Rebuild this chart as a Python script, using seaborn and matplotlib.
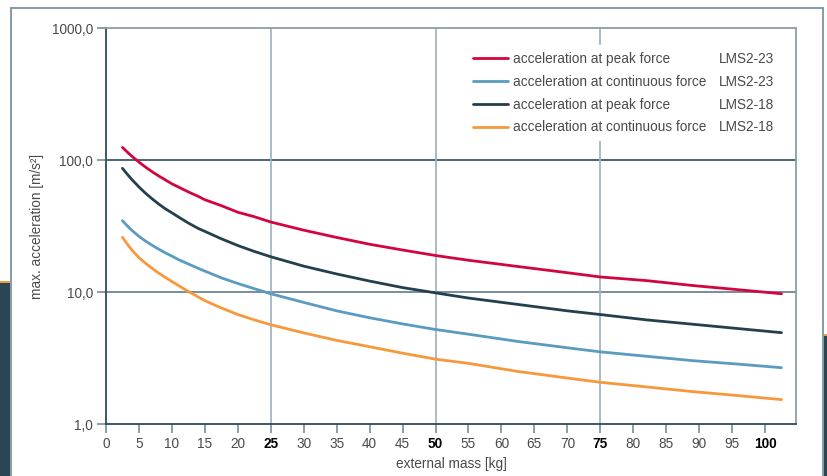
"""
Aceleración máxima frente a masa externa (LMS2-23 / LMS2-18)
Eje Y logarítmico, curvas leídas de la hoja de datos.
"""

import matplotlib
matplotlib.use("Agg")

import pandas as pd
import matplotlib.pyplot as plt
import seaborn as sns
from matplotlib.patches import Rectangle
from matplotlib.lines import Line2D
from matplotlib.ticker import FixedLocator, NullLocator


# DATOS
masa = [2.5, 3, 3.5, 4, 5, 6, 7, 8, 9, 10, 11, 12.5, 14, 15, 17.5, 20, 22.5, 25,
        30, 35, 40, 45, 50, 55, 62.5, 70, 75, 82, 89, 96, 102.5]

pico_23 = [124.5, 117.8, 111.6, 106, 96.4, 88.3, 81.5, 75.7, 70.7, 66, 62.4, 57.3, 53, 50, 45.1, 40.2, 37.2, 33.9,
           29.4, 25.9, 23.0, 20.8, 18.9, 17.4, 15.6, 14.0, 13.0, 12.2, 11.2, 10.4, 9.7]
cont_23 = [34.7, 32.6, 30.7, 29.1, 26.4, 24.3, 22.6, 21.1, 19.8, 18.7, 17.6, 16.3, 15.1, 14.4, 12.8, 11.6, 10.6, 9.7,
           8.34, 7.2, 6.38, 5.73, 5.2, 4.79, 4.22, 3.78, 3.52, 3.26, 3.02, 2.84, 2.67]
pico_18 = [86.5, 80.5, 75.2, 70.5, 62.5, 56, 50.8, 46.4, 42.7, 39.8, 37.0, 33.3, 30.3, 28.8, 25.3, 22.5, 20.3, 18.5,
           15.7, 13.7, 12.1, 10.8, 9.85, 9.0, 8.05, 7.2, 6.75, 6.15, 5.7, 5.28, 4.92]
cont_18 = [26.0, 23.9, 22.1, 20.6, 18.2, 16.5, 15.1, 13.9, 12.9, 12.0, 11.2, 10.1, 9.16, 8.6, 7.57, 6.75, 6.15, 5.65,
           4.9, 4.3, 3.85, 3.44, 3.1, 2.88, 2.5, 2.23, 2.07, 1.91, 1.76, 1.64, 1.53]

etiquetas = [
    "acceleration at peak force",
    "acceleration at continuous force",
    "acceleration at peak force",
    "acceleration at continuous force",
]
modelos = ["LMS2-23", "LMS2-23", "LMS2-18", "LMS2-18"]
colores = ["#d2063f", "#5a9bc0", "#243f4d", "#f6993c"]

x_ticks = list(range(0, 101, 5))
x_negrita = [25, 50, 75, 100]
y_ticks = [1, 10, 100, 1000]
y_etiquetas = ["1,0", "10,0", "100,0", "1000,0"]


# TABLA LARGA PARA SEABORN
series = [pico_23, cont_23, pico_18, cont_18]
filas = []
for i, valores in enumerate(series):
    for m, a in zip(masa, valores):
        filas.append({"masa": m, "aceleracion": a, "serie": i})
df = pd.DataFrame(filas)


# ESTILO
sns.set_style("white")
plt.rcParams["font.family"] = ["Liberation Sans", "DejaVu Sans"]

W, H = 827, 476
fig = plt.figure(figsize=(W / 100, H / 100), dpi=100)
ax = fig.add_axes([106 / W, 1 - 424 / H, 690 / W, 396 / H])

# marco y bloques de fondo (recorte del folleto)
marco = "#7d94a3"
fig.add_artist(Line2D([10.5 / W, 10.5 / W], [0, 1 - 7.5 / H], color=marco, lw=1.3))
fig.add_artist(Line2D([10.5 / W, 822.5 / W], [1 - 7.5 / H, 1 - 7.5 / H], color=marco, lw=1.3))
fig.add_artist(Line2D([822.5 / W, 822.5 / W], [0, 1 - 7.5 / H], color=marco, lw=1.3))
fig.add_artist(Rectangle((0, 0), 10 / W, (H - 283) / H, transform=fig.transFigure,
                         facecolor="#2a4655", edgecolor="none"))
fig.add_artist(Rectangle((0, (H - 283) / H), 10 / W, 2 / H, transform=fig.transFigure,
                         facecolor="#f29a3e", edgecolor="none"))
fig.add_artist(Rectangle((824 / W, 0), 3 / W, (H - 336) / H, transform=fig.transFigure,
                         facecolor="#2a4655", edgecolor="none"))
fig.add_artist(Rectangle((824 / W, (H - 336) / H), 3 / W, 2 / H, transform=fig.transFigure,
                         facecolor="#f29a3e", edgecolor="none"))

# CURVAS
sns.lineplot(
    data=df,
    x="masa",
    y="aceleracion",
    hue="serie",
    palette=dict(enumerate(colores)),
    linewidth=2.0,
    legend=False,
    ax=ax,
    zorder=3,
)

ax.set_yscale("log")
ax.set_xlim(0, 104.7)
ax.set_ylim(1, 1000)

# rejilla
for v in [10, 100]:
    ax.axhline(v, color="#2e4b5a" if v == 100 else "#62798a", lw=1.2, zorder=1)
for v in [25, 50, 75]:
    ax.axvline(v, color="#9bb0bd", lw=1.2, zorder=1)

# ejes
for lado in ["left", "bottom"]:
    ax.spines[lado].set_color("#2e4b5a")
    ax.spines[lado].set_linewidth(1.3)
for lado in ["top", "right"]:
    ax.spines[lado].set_color("#8b9eab")
    ax.spines[lado].set_linewidth(1.3)

ax.yaxis.set_major_locator(FixedLocator(y_ticks))
ax.yaxis.set_minor_locator(NullLocator())
ax.set_yticklabels(y_etiquetas)
ax.set_xticks(x_ticks)
ax.set_xticklabels([str(t) for t in x_ticks])

ax.tick_params(axis="both", which="major", direction="out", length=6.5, width=1.1,
               color="#6d8492", labelsize=9.8, labelcolor="#4a4a4a", pad=3)
ax.tick_params(left=True, bottom=True)

for t, valor in zip(ax.get_xticklabels(), x_ticks):
    if valor in x_negrita:
        t.set_fontweight("bold")
        t.set_color("black")

ax.set_xlabel("external mass [kg]", fontsize=9.8, color="#4a4a4a", labelpad=4)
ax.set_ylabel("max. acceleration [m/s²]", fontsize=9.8, color="#4a4a4a")
ax.yaxis.set_label_coords(-0.09, 0.5)

# LEYENDA
handles = [Line2D([], [], color=c, lw=2.0) for c in colores]
leg = ax.legend(
    handles,
    etiquetas,
    loc="upper left",
    bbox_to_anchor=(0.522, 0.957),
    borderaxespad=0,
    fontsize=9.8,
    handlelength=2.6,
    handletextpad=0.35,
    labelspacing=0.65,
    borderpad=0.5,
    frameon=True,
    fancybox=False,
    framealpha=1,
    facecolor="white",
    edgecolor="none",
    labelcolor="#4a4a4a",
)
leg.set_zorder(5)

# columna de modelos alineada con cada fila de la leyenda
fig.canvas.draw()
for t, modelo in zip(leg.get_texts(), modelos):
    bb = t.get_window_extent()
    fig.text(719 / W, (bb.y0 + bb.y1) / 2 / H, modelo, fontsize=9.8,
             color="#4a4a4a", va="center", ha="left", zorder=6)

fig.savefig("out.png", dpi=100)
print("Gráfico guardado en out.png")
